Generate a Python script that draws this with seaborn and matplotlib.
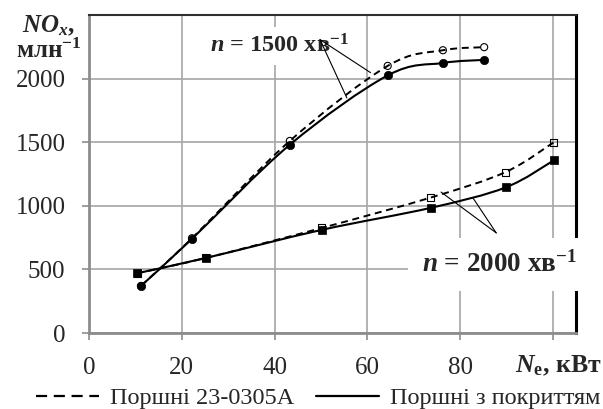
import numpy as np
import pandas as pd
import matplotlib
matplotlib.use("Agg")
import matplotlib.pyplot as plt
from matplotlib.path import Path
from matplotlib.patches import PathPatch
from matplotlib.lines import Line2D
import seaborn as sns

# Effective power, kW, and NOx concentration, ppm
power_1500 = [11.2, 22.2, 43.3, 64.4, 76.3, 85.2]
nox_1500_std = [370, 745, 1510, 2100, 2223, 2247]
nox_1500_coat = [370, 740, 1480, 2025, 2123, 2147]

power_2000 = [10.4, 25.2, 50.2, 73.7, 89.8, 100.2]
nox_2000_std = [470, 590, 826, 1065, 1265, 1499]
nox_2000_coat = [470, 590, 811, 984, 1144, 1357]

x_ticks = [0, 20, 40, 60, 80, 100]
x_tick_labels = ["0", "20", "40", "60", "80", ""]
y_ticks = [0, 500, 1000, 1500, 2000]
y_tick_labels = ["0", "500", "1000", "1500", "2000"]

legend_labels = ["Поршні 23-0305A", "Поршні з покриттям"]

sns.set_style("white")
plt.rcParams["font.family"] = ["Liberation Serif", "DejaVu Serif"]
plt.rcParams["mathtext.fontset"] = "custom"
plt.rcParams["mathtext.rm"] = "Liberation Serif:bold"
plt.rcParams["mathtext.it"] = "Liberation Serif:italic:bold"
plt.rcParams["mathtext.bf"] = "Liberation Serif:bold"

W, H = 603, 409
fig = plt.figure(figsize=(W / 100, H / 100), dpi=100)
ax = fig.add_axes([89 / W, 1 - 333 / H, (576 - 89) / W, (333 - 15) / H])
ax.set_xlim(0, 105)
ax.set_ylim(0, 2500)


def smooth_path(xs, ys):
    """Cubic Bezier path through the points (Catmull-Rom style tangents)."""
    pts = np.column_stack([xs, ys]).astype(float)
    n = len(pts)
    verts = [pts[0]]
    codes = [Path.MOVETO]
    for i in range(n - 1):
        p0 = pts[max(i - 1, 0)]
        p1 = pts[i]
        p2 = pts[i + 1]
        p3 = pts[min(i + 2, n - 1)]
        verts += [p1 + (p2 - p0) / 6, p2 - (p3 - p1) / 6, p2]
        codes += [Path.CURVE4] * 3
    return Path(verts, codes)


dash = (0, (3.6, 2.4))
series = [
    (power_1500, nox_1500_std, dash, "o", False),
    (power_1500, nox_1500_coat, "-", "o", True),
    (power_2000, nox_2000_std, dash, "s", False),
    (power_2000, nox_2000_coat, "-", "s", True),
]

for xs, ys, ls, mk, filled in series:
    ax.add_patch(PathPatch(smooth_path(xs, ys), fill=False, edgecolor="black",
                           lw=1.4 if ls != "-" else 1.5, linestyle=ls,
                           zorder=2.3, capstyle="butt"))
    df = pd.DataFrame({"x": xs, "y": ys})
    if filled:
        sns.scatterplot(data=df, x="x", y="y", marker=mk, s=36 if mk == "o" else 40,
                        facecolor="black", edgecolor="black", linewidth=0.5,
                        ax=ax, zorder=2.6, legend=False)
    else:
        sns.scatterplot(data=df, x="x", y="y", marker=mk, s=26,
                        facecolor="none", edgecolor="black", linewidth=0.8,
                        ax=ax, zorder=2.6, legend=False)

# leader lines from the speed labels to the curves
ax.plot([49.8, 55.6], [2307, 1848], color="black", lw=0.8, zorder=2.4)
ax.plot([49.8, 60.7], [2307, 2047], color="black", lw=0.8, zorder=2.4)
ax.plot([87.8, 75.9], [787, 1108], color="black", lw=0.8, zorder=2.4)
ax.plot([87.8, 82.8], [787, 1061], color="black", lw=0.8, zorder=2.4)

ax.text(26.1, 2205, "$n$ = 1500 хв$^{-1}$", fontsize=17.5, fontweight="bold",
        ha="left", va="baseline", zorder=2.2,
        bbox=dict(boxstyle="square,pad=0.3", facecolor="white", edgecolor="none"))
ax.text(71.7, 480, "$n$ = 2000 хв$^{-1}$", fontsize=19.5, fontweight="bold",
        ha="left", va="baseline", zorder=3, clip_on=False,
        bbox=dict(boxstyle="square,pad=0.5", facecolor="white", edgecolor="none"))

# axes styling
ax.set_xticks(x_ticks)
ax.set_xticklabels(x_tick_labels)
ax.set_yticks(y_ticks)
ax.set_yticklabels(y_tick_labels)
ax.set_xlabel("")
ax.set_ylabel("")
ax.tick_params(axis="both", labelsize=18, length=5, width=1.2, color="#8c8c8c",
               direction="out", left=True, bottom=True)
ax.tick_params(axis="y", pad=12)
ax.tick_params(axis="x", pad=12)
ax.grid(True, color="#a6a6a6", lw=1.2)
ax.set_axisbelow(True)
for side in ("left", "bottom"):
    ax.spines[side].set_color("#8c8c8c")
    ax.spines[side].set_linewidth(2.0)
ax.spines["top"].set_color("#303030")
ax.spines["top"].set_linewidth(1.5)
ax.spines["right"].set_color("black")
ax.spines["right"].set_linewidth(2.2)

# axis titles
fig.text(49 / W, 1 - 32 / H, "$NO_x$,", fontsize=18, fontweight="bold",
         ha="center", va="baseline")
fig.text(49 / W, 1 - 58 / H, "млн$^{-1}$", fontsize=18, fontweight="bold",
         ha="center", va="baseline")
fig.text(515 / W, 1 - 372 / H, "$N_\\mathrm{e}$, кВт", fontsize=18.5,
         fontweight="bold", ha="left", va="baseline")

handles = [
    Line2D([], [], color="black", lw=1.6, linestyle=(0, (5, 3))),
    Line2D([], [], color="black", lw=1.6, linestyle="-"),
]
fig.legend(handles, legend_labels, loc="center", bbox_to_anchor=(318 / W, 1 - 398 / H),
           ncol=2, frameon=False, fontsize=17.5, handlelength=2.6, handletextpad=0.45,
           columnspacing=0.9, borderaxespad=0, borderpad=0)

fig.savefig("out.png", dpi=100)
